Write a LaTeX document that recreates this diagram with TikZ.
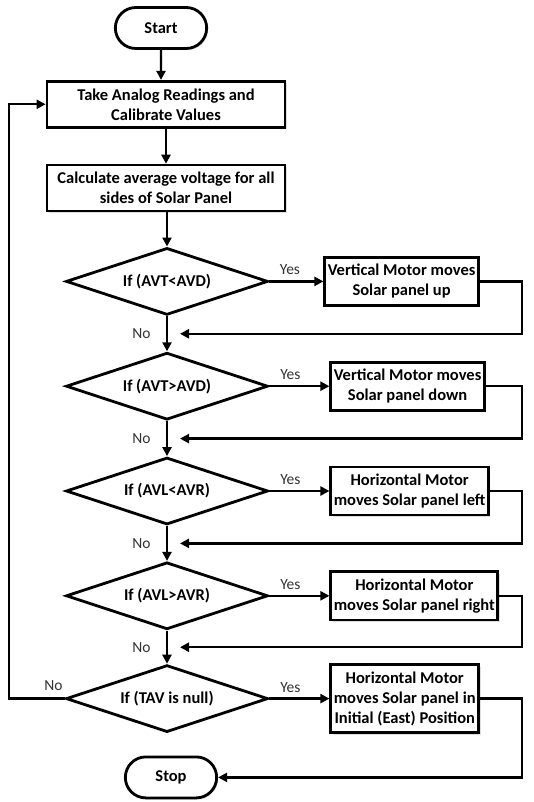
\documentclass[tikz,border=0pt]{standalone}
\usepackage{fontspec}
\setmainfont{Carlito}
\usepackage{tikz}
\usetikzlibrary{arrows.meta,positioning,shapes.geometric,shapes.misc,shadows,calc}

\begin{document}
\begin{tikzpicture}[x=1pt, y=1pt,
  term/.style={rounded rectangle, draw, line width=2.8pt, fill=white, minimum width=98pt,
               minimum height=41pt, font=\fontsize{16.5}{20}\selectfont\bfseries,
               drop shadow={opacity=0.25, shadow xshift=1.5pt, shadow yshift=-1.5pt}},
  proc/.style={rectangle, draw, line width=2.8pt, fill=white, align=center, inner xsep=3pt,
               inner ysep=7pt, font=\fontsize{16.5}{20}\selectfont\bfseries,
               drop shadow={opacity=0.25, shadow xshift=2pt, shadow yshift=-2pt}},
  dec/.style={diamond, aspect=3, draw, line width=2.8pt, fill=white, minimum width=202pt,
              minimum height=67pt, inner sep=0pt, font=\fontsize{16.5}{20}\selectfont\bfseries},
  arr/.style={-{Triangle[length=9pt,width=9pt]}, line width=2.3pt},
  lbl/.style={font=\fontsize{15.5}{18}\selectfont, text=black!80}
]
  \useasboundingbox (0,0) rectangle (533,-802);

  \node[term] (start) at (161,-28) {Start};
  \node[proc, below=30pt of start, xshift=5pt, minimum width=238pt, minimum height=46pt] (read)
       {Take Analog Readings and\\Calibrate Values};
  \node[proc, below=35pt of read, minimum width=238pt, minimum height=46pt] (avg)
       {Calculate average voltage for all\\sides of Solar Panel};
  \node[dec, below=34pt of avg, xshift=1pt] (d1) {If (AVT<AVD)};
  \node[dec, below=35pt of d1] (d2) {If (AVT>AVD)};
  \node[dec, below=35pt of d2] (d3) {If (AVL<AVR)};
  \node[dec, below=35pt of d3] (d4) {If (AVL>AVR)};
  \node[dec, below=33pt of d4] (d5) {If (TAV is null)};
  \node[term, below=22pt of d5, xshift=4pt] (stop) {Stop};

  \node[proc, right=54pt of d1] (up)    {Vertical Motor moves\\Solar panel up};
  \node[proc, right=60pt of d2] (down)  {Vertical Motor moves\\Solar panel down};
  \node[proc, right=60pt of d3] (left)  {Horizontal Motor\\moves Solar panel left};
  \node[proc, right=60pt of d4] (right) {Horizontal Motor\\moves Solar panel right};
  \node[proc, right=60pt of d5] (east)  {Horizontal Motor\\moves Solar panel in\\Initial (East) Position};

  \coordinate (rrail) at (522,0);
  \coordinate (lrail) at (9,0);

  \draw[arr] (start) -- (start |- read.north);
  \draw[arr] (read.south -| avg) -- (avg);
  \draw[arr] (avg.south -| d1) -- (d1);
  \draw[arr] (d1) -- node[lbl,left=12pt]{No} (d2);
  \draw[arr] (d2) -- node[lbl,left=12pt]{No} (d3);
  \draw[arr] (d3) -- node[lbl,left=12pt]{No} (d4);
  \draw[arr] (d4) -- node[lbl,left=12pt]{No} (d5);

  \draw[arr] (d1) -- node[lbl,above,pos=0.38,yshift=2pt]{Yes} (up);
  \draw[arr] (d2) -- node[lbl,above,pos=0.35,yshift=2pt]{Yes} (down);
  \draw[arr] (d3) -- node[lbl,above,pos=0.35,yshift=2pt]{Yes} (left);
  \draw[arr] (d4) -- node[lbl,above,pos=0.35,yshift=2pt]{Yes} (right);
  \draw[arr] (d5) -- node[lbl,above,pos=0.35,yshift=2pt]{Yes} (east);

  \draw[arr] (up.east) -- (up.east -| rrail) |- ($(d1.south)!.5!(d2.north)+(13pt,0)$);
  \draw[arr] (down.east) -- (down.east -| rrail) |- ($(d2.south)!.5!(d3.north)+(13pt,0)$);
  \draw[arr] (left.east) -- (left.east -| rrail) |- ($(d3.south)!.5!(d4.north)+(13pt,0)$);
  \draw[arr] (right.east) -- (right.east -| rrail) |- ($(d4.south)!.5!(d5.north)+(13pt,0)$);
  \draw[arr] (east.east) -- (east.east -| rrail) |- (stop.east);

  \draw[arr] (d5.west) -- node[lbl,above,pos=0.2,yshift=4pt]{No} (d5.west -| lrail) |- (read.west);
\end{tikzpicture}
\end{document}
